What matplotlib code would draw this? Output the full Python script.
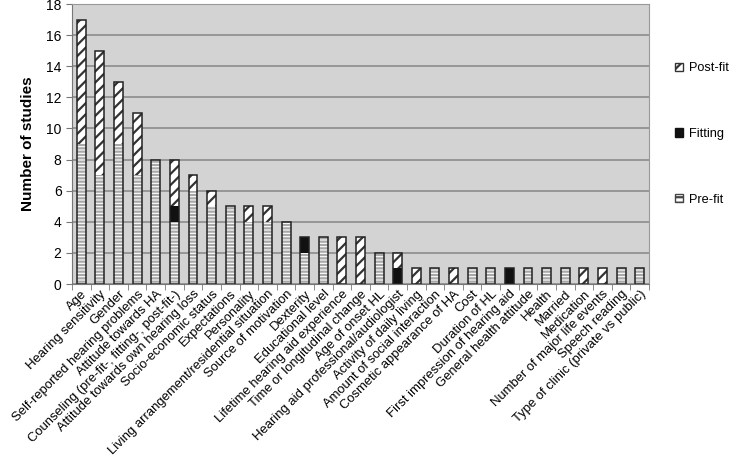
import matplotlib.pyplot as plt
import matplotlib.patches as mpatches
import numpy as np

categories = [
    "Age", "Hearing sensitivity", "Gender", "Self-reported hearing problems",
    "Attitude towards HA", "Counseling (pre-fit-, fitting-, post-fit-)",
    "Attitude towards own hearing loss", "Socio-economic status", "Expectations",
    "Personality", "Living arrangement/residential situation", "Source of motivation",
    "Dexterity", "Educational level", "Lifetime hearing aid experience",
    "Time or longitudinal change", "Age of onset HL",
    "Hearing aid professional/audiologist", "Activity of daily living",
    "Amount of social interaction", "Cosmetic appearance of HA", "Cost",
    "Duration of HL", "First impression of hearing aid", "General health attitude",
    "Health", "Married", "Medication", "Number of major life events",
    "Speech reading", "Type of clinic (private vs public)",
]
pre_fit = [9, 7, 9, 7, 8, 4, 6, 5, 5, 4, 4, 4, 2, 3, 0, 0, 2, 0, 0, 1, 0, 1, 1, 0, 1, 1, 1, 0, 0, 1, 1]
fitting = [0, 0, 0, 0, 0, 1, 0, 0, 0, 0, 0, 0, 1, 0, 0, 0, 0, 1, 0, 0, 0, 0, 0, 1, 0, 0, 0, 0, 0, 0, 0]
post_fit = [8, 8, 4, 4, 0, 3, 1, 1, 0, 1, 1, 0, 0, 0, 3, 3, 0, 1, 1, 0, 1, 0, 0, 0, 0, 0, 0, 1, 1, 0, 0]

plt.rcParams['font.family'] = ['Liberation Sans', 'DejaVu Sans']
plt.rcParams['hatch.linewidth'] = 1.6

pre = np.array(pre_fit)
fit = np.array(fitting)
post = np.array(post_fit)
x = np.arange(len(categories))
w = 0.48

fig = plt.figure(figsize=(7.32, 4.59), dpi=100)
ax = fig.add_axes([72 / 732, 1 - 284 / 459, 577 / 732, 280 / 459])
ax.set_facecolor('#d3d3d3')
ax.set_axisbelow(True)
ax.yaxis.grid(True, color='#8c8c8c', linewidth=1.2)

# pre-fit: white with light horizontal lines
ax.bar(x, pre, w, color='white', edgecolor='#a8a8a8', hatch='-----', linewidth=0)
ax.bar(x, fit, w, bottom=pre, color='#111111', edgecolor='#111111', linewidth=0)
ax.bar(x, post, w, bottom=pre + fit, color='white', edgecolor='#333333', hatch='///', linewidth=0)
total = pre + fit + post
ax.bar(x, total, w, fill=False, edgecolor='#222222', linewidth=1.1)

ax.set_xlim(-0.5, len(categories) - 0.5)
ax.set_ylim(0, 18)
ax.set_yticks(np.arange(0, 19, 2))
ax.set_xticks(x)
ax.set_xticklabels(categories, rotation=45, ha='right', rotation_mode='anchor', fontsize=9.4)
ax.tick_params(axis='y', labelsize=10, length=4, color='#777777')
ax.tick_params(axis='x', length=0, pad=3)
ax.set_xticks(np.arange(-0.5, len(categories), 1), minor=True)
ax.tick_params(axis='x', which='minor', length=4, color='#777777')
for s in ['top', 'right']:
    ax.spines[s].set_color('#999999')
for s in ['left', 'bottom']:
    ax.spines[s].set_color('#777777')
ax.set_ylabel('Number of studies', fontsize=11, fontweight='bold', labelpad=8)

handles = [
    mpatches.Patch(facecolor='white', edgecolor='#333333', hatch='///', label='Post-fit'),
    mpatches.Patch(facecolor='#111111', edgecolor='#111111', label='Fitting'),
    mpatches.Patch(facecolor='white', edgecolor='#444444', hatch='---', label='Pre-fit'),
]
fig.legend(handles=handles, loc='center left', bbox_to_anchor=(675 / 732, 1 - 134 / 459),
           frameon=False, borderpad=0, borderaxespad=0,
           handlelength=0.65, handleheight=0.65, handletextpad=0.45, labelspacing=4.2, fontsize=9.2)

fig.savefig('out.png', dpi=100)
